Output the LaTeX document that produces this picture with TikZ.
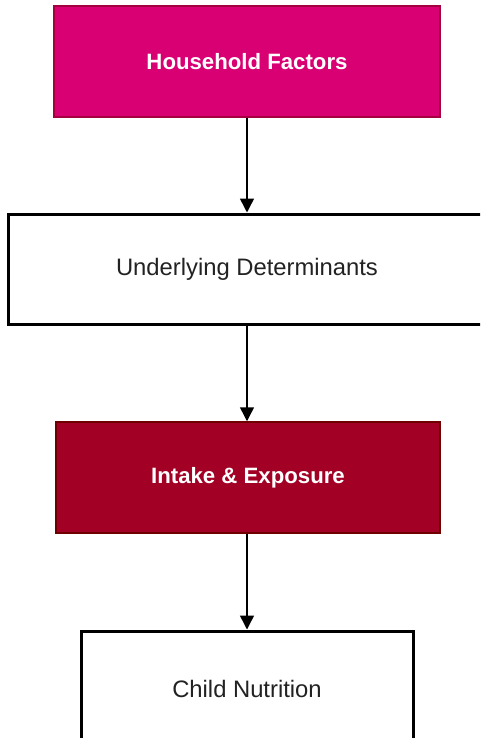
\documentclass[tikz,border=0pt]{standalone}
\usepackage{fontspec}
\setmainfont{Liberation Sans}
\usetikzlibrary{arrows.meta}
\definecolor{magfill}{HTML}{D80073}
\definecolor{magline}{HTML}{A50040}
\definecolor{redfill}{HTML}{A20025}
\definecolor{redline}{HTML}{6F0000}
\definecolor{txtgray}{HTML}{222222}
\tikzset{
  colbox/.style={rectangle, inner sep=0pt, line width=1.5pt, text=white,
    font=\fontsize{22.2}{26}\selectfont\bfseries},
  plainbox/.style={rectangle, inner sep=0pt, draw=black, fill=white, line width=3pt,
    text=txtgray, font=\fontsize{23.8}{28}\selectfont},
  flow/.style={draw=black, line width=1.5pt, -{Triangle[width=14pt,length=14pt]}}
}
\begin{document}
\begin{tikzpicture}[x=1pt,y=-1pt]
\useasboundingbox (0,0) rectangle (480,738);
\clip (0,0) rectangle (480,738);
\node[colbox, draw=magline, fill=magfill, minimum width=386pt, minimum height=111pt] (hf) at (247,61.5) {Household Factors};
\node[plainbox, minimum width=482pt, minimum height=110pt] (ud) at (249,269) {\hspace*{-2pt}Underlying Determinants\hspace*{2pt}};
\node[colbox, draw=redline, fill=redfill, minimum width=384pt, minimum height=111pt] (ie) at (248,477.5) {Intake \& Exposure};
\node[plainbox, minimum width=332pt, minimum height=116pt] (cn) at (247,689) {Child Nutrition};
\draw[flow] (hf.south) -- (hf.south |- ud.north);
\draw[flow] (hf.south |- ud.south) -- (hf.south |- ie.north);
\draw[flow] (hf.south |- ie.south) -- (hf.south |- cn.north);
\end{tikzpicture}
\end{document}
